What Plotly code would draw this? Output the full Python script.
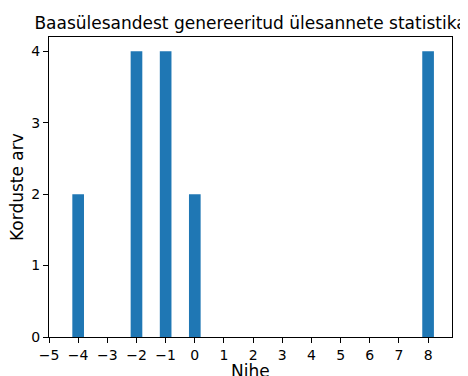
import plotly.graph_objects as go

offsets = [-4, -2, -1, 0, 8]
counts = [2, 4, 4, 2, 4]
x_ticks = list(range(-5, 9))
y_ticks = [0, 1, 2, 3, 4]

fig = go.Figure(go.Bar(x=offsets, y=counts, width=0.4,
                       marker=dict(color="#1f77b4", line=dict(width=0))))

font = "DejaVu Sans"
# page body has an 8px margin, so the figure is drawn at (8, 8)
W, H = 460, 368
L, R, T, B = 41, 16, 29, 39
fig.update_layout(
    width=W, height=H,
    margin=dict(l=L, r=R, t=T, b=B, autoexpand=False),
    plot_bgcolor="white", paper_bgcolor="white",
    font=dict(family=font, color="black", size=14),
    title=dict(text="Baasülesandest genereeritud ülesannete statistika",
               x=(L + W - R) / 2 / W, xanchor="center", y=1 - 15 / H, yanchor="middle",
               font=dict(size=17, family=font, color="black")),
    showlegend=False,
    annotations=[
        dict(text="Nihe", xref="paper", yref="paper", x=0.5, y=0,
             xanchor="center", yanchor="middle", yshift=-34, showarrow=False,
             font=dict(size=17, family=font, color="black")),
        dict(text="Korduste arv", xref="paper", yref="paper", x=0, y=0.5,
             xanchor="center", yanchor="middle", xshift=-32, textangle=-90,
             showarrow=False, font=dict(size=17, family=font, color="black")),
    ],
)
x_labels = [str(v).replace("-", "\u2212") for v in x_ticks]
fig.update_xaxes(range=[-5, 8.82], tickvals=x_ticks, ticktext=x_labels,
                 showline=True, linecolor="black", linewidth=1, mirror=True,
                 ticks="outside", ticklen=5, tickcolor="black", showgrid=False, zeroline=False,
                 automargin=False, tickfont=dict(size=14))
fig.update_yaxes(range=[0, 4.2], tickvals=y_ticks,
                 showline=True, linecolor="black", linewidth=1, mirror=True,
                 ticks="outside", ticklen=5, tickcolor="black", showgrid=False, zeroline=False,
                 automargin=False, tickfont=dict(size=14))

fig.write_html("out.html")
